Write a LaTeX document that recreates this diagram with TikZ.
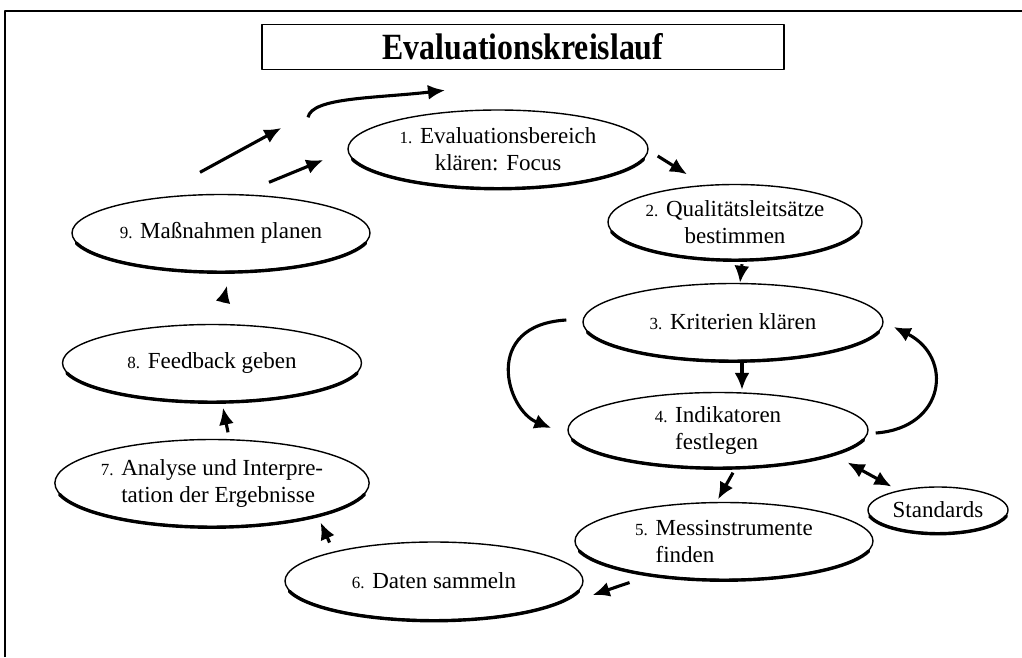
\documentclass[tikz,border=0pt]{standalone}
\usepackage{fontspec}
\usepackage{graphicx}
\setmainfont{Liberation Serif}
\usetikzlibrary{arrows.meta,calc,shapes.geometric}

\newcommand\stepno[1]{{\fontsize{17}{20}\selectfont #1.}}

\tikzset{
  cyc/.style={ellipse, draw, line width=1.4pt, inner sep=0pt, align=center,
    font=\fontsize{23}{27}\selectfont},
  arr/.style={->, line width=3.1pt},
}

\begin{document}
\begin{tikzpicture}[>={Latex[length=17pt,width=15pt]}, x=1pt, y=-1pt, line join=round]
  \useasboundingbox (0,0) rectangle (1022,657);

  % Frame
  \draw[line width=1.8pt] (5,657) -- (5,11) -- (1022,11);

  % Title
  \node[draw, line width=1.3pt, minimum width=522pt, minimum height=45pt, inner sep=0pt,
        font=\bfseries\fontsize{37}{40}\selectfont] (title) at (523,47)
    {\scalebox{0.86}[1]{Evaluationskreislauf}};

  % Steps
  \node[cyc, minimum width=300pt, minimum height=78pt] (s1) at (498,149)
    {\stepno{1} Evaluationsbereich\\klären: Focus};
  \node[cyc, minimum width=254pt, minimum height=75pt] (s2) at (735,222)
    {\stepno{2} Qualitätsleitsätze\\bestimmen};
  \node[cyc, minimum width=300pt, minimum height=77pt] (s3) at (733,322)
    {\stepno{3} Kriterien klären};
  \node[cyc, minimum width=300pt, minimum height=75pt, align=left] (s4) at (718,430)
    {\stepno{4} Indikatoren\\\phantom{\stepno{4} }festlegen};
  \node[cyc, minimum width=298pt, minimum height=77pt, align=left] (s5) at (724,541)
    {\stepno{5} Messinstrumente\\\phantom{\stepno{5} }finden};
  \node[cyc, minimum width=298pt, minimum height=78pt] (s6) at (434,581)
    {\stepno{6} Daten sammeln};
  \node[cyc, minimum width=300pt, minimum height=87pt, align=left] (s7) at (212,483)
    {\stepno{7} Analyse und Interpre-\\\phantom{\stepno{7} }tation der Ergebnisse};
  \node[cyc, minimum width=299pt, minimum height=77pt] (s8) at (212,363)
    {\stepno{8} Feedback geben};
  \node[cyc, minimum width=298pt, minimum height=77pt] (s9) at (221,233)
    {\stepno{9} Maßnahmen planen};
  \node[cyc, minimum width=140pt, minimum height=46pt] (std) at (938,510) {Standards};

  % Heavy lower rims
  \foreach \nd in {s1,s2,s3,s4,s5,s6,s7,s8,s9,std}
    \draw[line width=3.4pt, line cap=round]
      let \p1=($(\nd.east)-(\nd.center)$), \p2=($(\nd.north)-(\nd.center)$) in
      ($(\nd.center)+(195:\x1 and \y2)$) arc[start angle=195, end angle=345, x radius=\x1, y radius=\y2];

  % Cycle arrows
  \draw[arr] ([shift={(9,7)}]s1.east) -- ([shift={(-48,-9.5)}]s2.north);
  \draw[arr] ([shift={(7,4)}]s2.south) -- ([shift={(7,0)}]s3.north);
  \draw[arr] ([shift={(9,0)}]s3.south) -- ([shift={(24,-2)}]s4.north);
  \draw[arr] ([shift={(-16,-2)}]s3.west) .. controls +(-85,5) and +(-45,-18) .. ([shift={(-16,-2)}]s4.west);
  \draw[arr] ([shift={(7,3)}]s4.east) .. controls +(70,-5) and +(60,30) .. ([shift={(10,5)}]s3.east);
  \draw[arr, <->] ([shift={(23,5.5)}]s4.south east) -- ([shift={(3.5,-6.7)}]std.north west);
  \draw[arr] ([shift={(15,4.5)}]s4.south) -- ([shift={(-6,-2.5)}]s5.north);
  \draw[arr] ([shift={(11.4,13.8)}]s5.south west) -- ([shift={(9,14)}]s6.east);
  \draw[arr] ([shift={(1.4,-10.4)}]s6.north west) -- ([shift={(-3,8.2)}]s7.south east);
  \draw[arr] ([shift={(16,-6.5)}]s7.north) -- ([shift={(11,5.5)}]s8.south);
  \draw[arr] ([shift={(11,-21.5)}]s8.north) -- ([shift={(6,13.5)}]s9.south);

  % Next round
  \draw[arr] ([shift={(48,-11.5)}]s9.north) -- ([shift={(-24,11)}]s1.west);
  \draw[arr] ([shift={(-21,-21.5)}]s9.north) -- ([shift={(-66,-21)}]s1.west);
  \draw[arr] ([shift={(-190,8)}]s1.north) .. controls +(4,-20) and +(-70,8) .. ([shift={(-53,-19)}]s1.north);
\end{tikzpicture}
\end{document}
